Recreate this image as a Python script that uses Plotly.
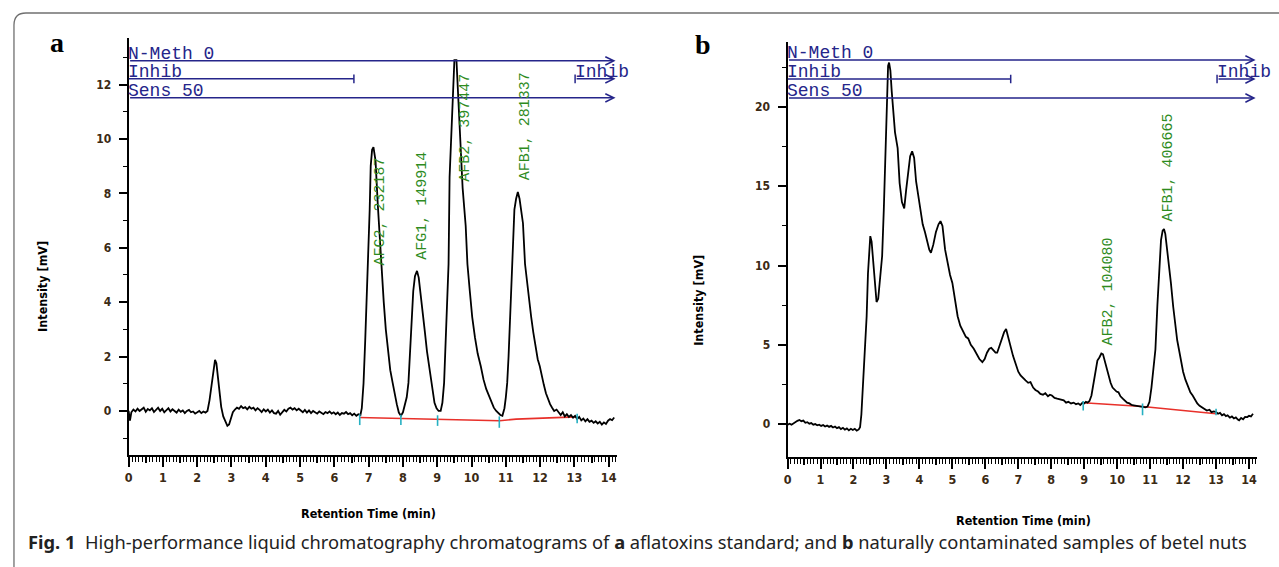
import plotly.graph_objects as go

W, H = 1279, 567

# ---------------- data ----------------
# Panel a: aflatoxin standard chromatogram (time in min, intensity in mV)
a_time = [0.00, 0.04, 0.08, 0.14, 0.20, 0.26, 0.32, 0.38, 0.44, 0.50, 0.56, 0.62, 0.68, 0.74, 0.80,
          0.86, 0.92, 0.98, 1.04, 1.10, 1.16, 1.22, 1.28, 1.34, 1.40, 1.46, 1.52, 1.58, 1.64, 1.70,
          1.76, 1.82, 1.88, 1.94, 2.00, 2.06, 2.12, 2.18, 2.24, 2.30, 2.36, 2.42, 2.48, 2.52, 2.56,
          2.60, 2.65, 2.70, 2.76, 2.82, 2.88, 2.93, 2.98, 3.04, 3.10, 3.16, 3.22, 3.28, 3.34, 3.40,
          3.46, 3.52, 3.58, 3.64, 3.70, 3.76, 3.82, 3.88, 3.94, 4.00, 4.06, 4.12, 4.18, 4.24, 4.30,
          4.36, 4.42, 4.48, 4.54, 4.60, 4.66, 4.72, 4.78, 4.84, 4.90, 4.96, 5.02, 5.08, 5.14, 5.20,
          5.26, 5.32, 5.38, 5.44, 5.50, 5.56, 5.62, 5.68, 5.74, 5.80, 5.86, 5.92, 5.98, 6.04, 6.10,
          6.16, 6.22, 6.28, 6.34, 6.40, 6.46, 6.52, 6.58, 6.64, 6.70, 6.76,
          6.80, 6.85, 6.90, 6.95, 6.98, 7.03, 7.06, 7.10, 7.14, 7.20, 7.27, 7.32, 7.38, 7.44, 7.50,
          7.57, 7.63, 7.70, 7.76, 7.82, 7.88, 7.94, 8.00, 8.06, 8.11, 8.16, 8.21, 8.25, 8.30, 8.35,
          8.41, 8.46, 8.52, 8.58, 8.64, 8.70, 8.76, 8.82, 8.87, 8.92, 8.98, 9.04, 9.10, 9.15, 9.20,
          9.25, 9.29, 9.33, 9.36, 9.42, 9.46, 9.50, 9.56, 9.62, 9.68, 9.74, 9.83, 9.88, 9.95, 10.02,
          10.10, 10.18, 10.27, 10.35, 10.43, 10.51, 10.58, 10.65, 10.72, 10.78, 10.84, 10.90, 10.96,
          11.00, 11.04, 11.08, 11.13, 11.17, 11.21, 11.25, 11.30, 11.35, 11.40, 11.45, 11.50, 11.56,
          11.62, 11.68, 11.74, 11.80, 11.87, 11.93, 11.99, 12.05, 12.11, 12.17, 12.23, 12.29, 12.35,
          12.41, 12.48, 12.54, 12.60, 12.66, 12.72, 12.78, 12.84, 12.90, 12.96, 13.02, 13.08, 13.14,
          13.20, 13.26, 13.32, 13.38, 13.44, 13.50, 13.56, 13.62, 13.68, 13.74, 13.80, 13.86, 13.92,
          13.98, 14.04, 14.10, 14.16]
a_signal = [0.00, -0.36, -0.05, 0.05, -0.02, 0.08, 0.00, 0.06, 0.12, -0.03, 0.07, 0.02, 0.10, -0.04, 0.05,
            0.12, 0.00, 0.08, -0.05, 0.04, 0.10, -0.02, 0.06, 0.00, -0.06, 0.05, -0.03, 0.02, -0.08, 0.00,
            0.04, -0.05, -0.02, -0.10, -0.04, 0.00, -0.08, -0.02, -0.06, 0.00, 0.40, 1.00, 1.60, 1.88, 1.75,
            1.30, 0.70, 0.15, -0.20, -0.40, -0.55, -0.50, -0.30, -0.05, 0.05, 0.12, 0.08, 0.18, 0.10, 0.14,
            0.06, 0.15, 0.08, 0.12, 0.02, 0.10, 0.04, -0.04, 0.06, -0.02, 0.05, -0.06, 0.02, -0.08, -0.10,
            0.00, -0.14, -0.05, 0.04, -0.02, 0.08, 0.12, 0.05, 0.10, 0.02, 0.08, 0.00, -0.05, 0.04, -0.06,
            0.02, -0.08, 0.00, -0.04, -0.10, -0.02, -0.06, -0.12, -0.04, -0.08, -0.02, -0.10, -0.05, -0.12, -0.06,
            -0.15, -0.08, -0.10, -0.04, -0.12, -0.08, -0.16, -0.10, -0.18, -0.12, -0.15,
            0.10, 1.00, 2.60, 4.30, 5.40, 7.40, 9.00, 9.60, 9.70, 9.20, 7.50, 6.40, 5.20, 4.00, 3.00,
            2.24, 1.50, 1.03, 0.60, 0.25, -0.06, -0.18, -0.05, 0.20, 0.50, 1.03, 2.20, 3.45, 4.40, 4.95,
            5.15, 4.90, 4.30, 3.70, 2.90, 2.20, 1.64, 1.10, 0.65, 0.30, 0.10, 0.00, 0.00, 0.30, 1.03,
            2.50, 3.90, 5.40, 8.60, 10.50, 12.20, 12.90, 12.90, 11.50, 10.00, 8.20, 6.80, 5.40, 4.40, 3.45,
            2.70, 2.10, 1.64, 1.15, 0.80, 0.55, 0.30, 0.12, 0.00, -0.08, -0.15, -0.18, 0.10,
            0.50, 1.03, 2.00, 3.50, 4.90, 6.00, 7.40, 7.80, 8.05, 7.80, 7.30, 6.90, 5.40,
            4.70, 4.10, 3.45, 2.90, 2.30, 1.90, 1.64, 1.25, 0.95, 0.65, 0.42, 0.25, 0.12,
            0.00, 0.05, -0.06, -0.15, -0.05, -0.20, -0.12, -0.22, -0.15, -0.25, -0.18, -0.30, -0.22,
            -0.35, -0.28, -0.38, -0.30, -0.40, -0.36, -0.44, -0.38, -0.46, -0.40, -0.50, -0.42, -0.48,
            -0.36, -0.30, -0.34, -0.24]

# Panel b: naturally contaminated betel nut sample
b_time = [0.00, 0.06, 0.12, 0.18, 0.24, 0.30, 0.36, 0.42, 0.48, 0.54, 0.60, 0.66, 0.72, 0.78, 0.84,
          0.90, 0.96, 1.02, 1.08, 1.14, 1.20, 1.26, 1.32, 1.38, 1.44, 1.50, 1.56, 1.62, 1.68, 1.74,
          1.80, 1.86, 1.92, 1.98, 2.04, 2.10, 2.16, 2.20, 2.24, 2.28, 2.33, 2.37, 2.40, 2.44, 2.48,
          2.51, 2.55, 2.60, 2.65, 2.70, 2.75, 2.80, 2.87, 2.92, 2.97, 3.01, 3.05, 3.08, 3.12, 3.16,
          3.20, 3.26, 3.34, 3.40, 3.47, 3.54, 3.60, 3.66, 3.72, 3.78, 3.84, 3.90, 3.96, 4.03, 4.10,
          4.17, 4.24, 4.30, 4.35, 4.42, 4.50, 4.58, 4.64, 4.70, 4.78, 4.86, 4.93, 5.00, 5.08, 5.16,
          5.24, 5.32, 5.41, 5.48, 5.56, 5.65, 5.73, 5.82, 5.91, 5.98, 6.05, 6.12, 6.18, 6.25, 6.31,
          6.36, 6.43, 6.50, 6.57, 6.63, 6.70, 6.77, 6.84, 6.92, 7.00, 7.07, 7.14, 7.22, 7.30, 7.37,
          7.45, 7.52, 7.60, 7.67, 7.75, 7.82, 7.90, 7.96, 8.02, 8.10, 8.18, 8.26, 8.33, 8.38, 8.45,
          8.52, 8.60, 8.68, 8.75, 8.82, 8.88, 8.95, 9.00, 9.05, 9.10, 9.16, 9.22, 9.28, 9.34, 9.40,
          9.46, 9.52, 9.57, 9.62, 9.68, 9.74, 9.80, 9.86, 9.92, 9.98, 10.04, 10.10, 10.17, 10.24, 10.30,
          10.37, 10.44, 10.50, 10.57, 10.64, 10.70, 10.78, 10.86, 10.92, 10.98, 11.04, 11.10, 11.16, 11.22,
          11.28, 11.33, 11.38, 11.42, 11.46, 11.52, 11.57, 11.63, 11.70, 11.76, 11.82, 11.87, 11.94, 12.00,
          12.07, 12.14, 12.22, 12.29, 12.36, 12.43, 12.50, 12.57, 12.64, 12.72, 12.80, 12.86, 12.93, 13.00,
          13.06, 13.12, 13.18, 13.24, 13.30, 13.35, 13.42, 13.48, 13.54, 13.60, 13.66, 13.70, 13.76, 13.82,
          13.88, 13.95, 14.00, 14.06, 14.12]
b_signal = [-0.05, 0.02, -0.04, 0.05, 0.10, 0.20, 0.26, 0.18, 0.22, 0.08, 0.12, 0.02, 0.06, -0.04, 0.00,
            -0.08, -0.04, -0.12, -0.06, -0.16, -0.10, -0.18, -0.12, -0.22, -0.16, -0.26, -0.20, -0.32, -0.24, -0.36,
            -0.28, -0.40, -0.30, -0.38, -0.30, -0.42, -0.34, -0.20, 0.60, 2.00, 3.70, 5.50, 6.80, 9.50, 11.30,
            11.85, 11.50, 10.20, 8.60, 7.70, 7.90, 9.00, 10.60, 13.50, 17.00, 20.50, 22.60, 22.80, 22.30, 21.00,
            19.80, 18.40, 17.40, 15.20, 14.00, 13.60, 14.80, 16.10, 16.90, 17.20, 16.80, 15.30, 14.40, 13.40, 12.60,
            12.10, 11.40, 11.00, 10.80, 11.30, 12.10, 12.60, 12.80, 12.50, 11.00, 10.00, 9.40, 8.90, 7.80, 6.80,
            6.20, 5.90, 5.50, 5.40, 5.00, 4.75, 4.40, 4.10, 3.90, 4.10, 4.50, 4.75, 4.80, 4.60, 4.50,
            4.50, 4.90, 5.30, 5.80, 6.00, 5.40, 4.80, 4.30, 3.80, 3.30, 3.07, 2.90, 2.75, 2.60, 2.65,
            2.30, 2.15, 2.05, 1.90, 1.85, 1.95, 1.75, 1.85, 1.80, 1.65, 1.60, 1.55, 1.50, 1.50, 1.35,
            1.40, 1.30, 1.35, 1.25, 1.30, 1.20, 1.35, 1.30, 1.40, 1.35, 1.45, 1.80, 2.60, 3.50, 4.00,
            4.20, 4.45, 4.40, 4.00, 3.40, 2.90, 2.60, 2.30, 2.15, 2.05, 2.00, 1.75, 1.60, 1.45, 1.35,
            1.30, 1.20, 1.18, 1.15, 1.10, 1.12, 1.08, 1.05, 1.10, 1.40, 2.30, 3.40, 4.70, 7.50,
            10.00, 11.60, 12.20, 12.30, 12.00, 11.00, 10.00, 8.90, 7.40, 6.20, 5.30, 4.75, 3.90, 3.30,
            2.80, 2.40, 2.00, 1.80, 1.50, 1.30, 1.15, 1.05, 0.97, 0.85, 0.90, 0.75, 0.80, 0.76,
            0.65, 0.70, 0.55, 0.62, 0.50, 0.55, 0.40, 0.48, 0.35, 0.42, 0.28, 0.23, 0.38, 0.30,
            0.45, 0.44, 0.52, 0.48, 0.65]

# integration baselines (red) and peak boundary marks (cyan)
a_base_time = [6.72, 7.94, 9.84, 10.82, 11.30, 12.41, 13.05]
a_base_val = [-0.24, -0.28, -0.33, -0.36, -0.30, -0.24, -0.22]
b_base_time = [8.97, 10.77, 13.00]
b_base_val = [1.34, 1.11, 0.65]
a_mark_time = [6.74, 7.94, 9.01, 10.81, 13.08]
a_mark_top = [-0.12, -0.14, -0.16, -0.20, -0.10]
a_mark_bot = [-0.52, -0.52, -0.55, -0.62, -0.45]
b_mark_time = [8.97, 10.77, 13.00]
b_mark_top = [1.45, 1.30, 0.97]
b_mark_bot = [0.86, 0.55, 0.55]

# peak labels
a_peak_text = ["AFG2, 232187", "AFG1, 149914", "AFB2, 397447", "AFB1, 281337"]
a_peak_t = [7.35, 8.58, 9.80, 11.57]
a_peak_v = [7.32, 7.54, 10.40, 10.48]
b_peak_text = ["AFB2, 104080", "AFB1, 406665"]
b_peak_t = [9.74, 11.55]
b_peak_v = [8.33, 16.20]

# integration events (lines at the top)
event_names = ["N-Meth 0", "Inhib", "Sens 50"]
a_event_level = [12.87, 12.21, 11.51]
b_event_level = [22.97, 21.77, 20.57]
a_inhib_stop, a_inhib_start = 6.57, 13.02
b_inhib_stop, b_inhib_start = 6.77, 13.03
event_end = 14.2

x_tick_vals = list(range(0, 15))

# ---------------- styling ----------------
NAVY = "#25258a"
GREEN = "#2e8b1e"
RED = "#e8302a"
CYAN = "#26b0c2"
TICKCOL = "#3b2a14"
NARROW = "Liberation Sans Narrow, DejaVu Sans Condensed, Arial Narrow, sans-serif"
MONO = "Liberation Mono, Courier New, monospace"

fig = go.Figure()


def add_panel(xa, ya, t, v, bt, bv, mt, mtop, mbot):
    fig.add_trace(go.Scatter(x=bt, y=bv, mode="lines", line=dict(color=RED, width=1.6),
                             xaxis=xa, yaxis=ya, showlegend=False, hoverinfo="skip"))
    fig.add_trace(go.Scatter(x=t, y=v, mode="lines", line=dict(color="black", width=1.8),
                             xaxis=xa, yaxis=ya, showlegend=False))
    mx, my = [], []
    for tt, hi, lo in zip(mt, mtop, mbot):
        mx += [tt, tt, None]
        my += [hi, lo, None]
    fig.add_trace(go.Scatter(x=mx, y=my, mode="lines", line=dict(color=CYAN, width=1.6),
                             xaxis=xa, yaxis=ya, showlegend=False, hoverinfo="skip"))


add_panel("x", "y", a_time, a_signal, a_base_time, a_base_val, a_mark_time, a_mark_top, a_mark_bot)
add_panel("x2", "y2", b_time, b_signal, b_base_time, b_base_val, b_mark_time, b_mark_top, b_mark_bot)
# empty traces so the half-minute tick overlays are drawn
fig.add_trace(go.Scatter(x=[], y=[], xaxis="x3", yaxis="y", showlegend=False))
fig.add_trace(go.Scatter(x=[], y=[], xaxis="x4", yaxis="y2", showlegend=False))

annotations = []
shapes = []


def events(xr, yr, levels, inhib_stop, inhib_start, bar_half, text_shift):
    for name, lev in zip(event_names, levels):
        annotations.append(dict(x=0, y=lev, xref=xr, yref=yr, text=name, showarrow=False,
                                xanchor="left", yanchor="bottom", xshift=-3, yshift=text_shift,
                                font=dict(family=MONO, size=18, color=NAVY)))
    # N-Meth and Sens full-length arrows
    for lev in (levels[0], levels[2]):
        annotations.append(dict(x=event_end, y=lev, ax=0, ay=lev, xref=xr, yref=yr, axref=xr, ayref=yr,
                                text="", showarrow=True, arrowhead=5, arrowsize=1.1, arrowwidth=1.5,
                                arrowcolor=NAVY, standoff=0, startstandoff=0))
    # Inhib: off until inhib_stop, on again from inhib_start
    lev = levels[1]
    shapes.append(dict(type="line", xref=xr, yref=yr, x0=0, x1=inhib_stop, y0=lev, y1=lev,
                       line=dict(color=NAVY, width=1.5)))
    shapes.append(dict(type="line", xref=xr, yref=yr, x0=inhib_stop, x1=inhib_stop,
                       y0=lev - bar_half, y1=lev + bar_half, line=dict(color=NAVY, width=1.5)))
    shapes.append(dict(type="line", xref=xr, yref=yr, x0=inhib_start, x1=inhib_start,
                       y0=lev - bar_half, y1=lev + bar_half, line=dict(color=NAVY, width=1.5)))
    annotations.append(dict(x=event_end, y=lev, ax=inhib_start, ay=lev, xref=xr, yref=yr, axref=xr,
                            ayref=yr, text="", showarrow=True, arrowhead=5, arrowsize=1.1,
                            arrowwidth=1.5, arrowcolor=NAVY, standoff=0, startstandoff=0))
    annotations.append(dict(x=inhib_start, y=lev, xref=xr, yref=yr, text="Inhib", showarrow=False,
                            xanchor="left", yanchor="bottom", xshift=-2, yshift=text_shift,
                            font=dict(family=MONO, size=18, color=NAVY)))


events("x", "y", a_event_level, a_inhib_stop, a_inhib_start, 0.16, -5)
events("x2", "y2", b_event_level, b_inhib_stop, b_inhib_start, 0.27, -5)

for txt, t, v in zip(a_peak_text, a_peak_t, a_peak_v):
    annotations.append(dict(x=t, y=v, xref="x", yref="y", text=txt, showarrow=False, textangle=-90,
                            xanchor="center", yanchor="middle",
                            font=dict(family=MONO, size=15, color=GREEN)))
for txt, t, v in zip(b_peak_text, b_peak_t, b_peak_v):
    annotations.append(dict(x=t, y=v, xref="x2", yref="y2", text=txt, showarrow=False, textangle=-90,
                            xanchor="center", yanchor="middle",
                            font=dict(family=MONO, size=15, color=GREEN)))


def P(px, py):
    return px / W, 1 - py / H


# axis titles, panel letters, caption
for (px, py), txt, ang in [((366, 513), "Retention Time (min)", 0), ((1023, 520), "Retention Time (min)", 0),
                           ((38, 286), "Intensity [mV]", -90), ((696, 300), "Intensity [mV]", -90)]:
    xp, yp = P(px, py)
    annotations.append(dict(x=xp, y=yp, xref="paper", yref="paper", text=txt, showarrow=False,
                            textangle=ang, xanchor="center", yanchor="middle",
                            font=dict(family=NARROW, size=12.5, color="black", weight="bold")))
for (px, py), txt in [((53, 42), "a"), ((701, 45), "b")]:
    xp, yp = P(px, py)
    annotations.append(dict(x=xp, y=yp, xref="paper", yref="paper", text=txt, showarrow=False,
                            xanchor="center", yanchor="middle",
                            font=dict(family="Liberation Serif, Times New Roman, serif", size=28,
                                      color="black", weight="bold")))
xp, yp = P(22, 541)
annotations.append(dict(x=xp, y=yp, xref="paper", yref="paper", showarrow=False, xanchor="left",
                        yanchor="middle",
                        text="<b>Fig. 1</b>  High-performance liquid chromatography chromatograms of "
                             "<b>a</b> aflatoxins standard; and <b>b</b> naturally contaminated samples "
                             "of betel nuts",
                        font=dict(family="Noto Sans, Open Sans, sans-serif", size=18.3, color="#222")))

# rounded frame around the figure
x0, yT = P(10, 13)
rx, ry = 12 / W, 12 / H
shapes.append(dict(type="path", xref="paper", yref="paper",
                   path=f"M {x0},-0.05 L {x0},{yT - ry} Q {x0},{yT} {x0 + rx},{yT} L 1.05,{yT}",
                   line=dict(color="#707070", width=1.3)))


def xaxis_cfg(domain):
    return dict(domain=domain, range=[0, 14.25], showgrid=False, zeroline=False, showline=True,
                linecolor="black", linewidth=2, ticks="outside", tickmode="array",
                tickvals=x_tick_vals, ticktext=[str(v) for v in x_tick_vals], ticklen=10, tickwidth=2,
                tickcolor="black",
                minor=dict(ticks="outside", dtick=0.1, tick0=0, ticklen=5, tickwidth=1, tickcolor="black"),
                tickfont=dict(family=NARROW, size=12.5, color=TICKCOL, weight="bold"),
                fixedrange=True)


def half_tick_cfg(domain, over, anchor):
    return dict(domain=domain, range=[0, 14.25], overlaying=over, anchor=anchor, showgrid=False,
                zeroline=False, showline=False, showticklabels=False, ticks="outside",
                tickmode="linear", tick0=0.5, dtick=1, ticklen=7, tickwidth=1.5, tickcolor="black",
                fixedrange=True)


def yaxis_cfg(domain, rng, dtick, xa):
    return dict(domain=domain, range=rng, anchor=xa, showgrid=False, zeroline=False, showline=True,
                linecolor="black", linewidth=2, ticks="outside", dtick=dtick, tick0=0, ticklen=8,
                tickwidth=1.5, tickcolor="black", ticklabelstandoff=5,
                minor=dict(ticks="outside", dtick=dtick / 2, tick0=0, ticklen=4, tickwidth=1.2,
                           tickcolor="black"),
                tickfont=dict(family=NARROW, size=12, color=TICKCOL, weight="bold"),
                fixedrange=True)


a_dom = [125 / W, 615.2 / W]
b_dom = [786 / W, 1257.2 / W]
fig.update_layout(
    width=W, height=H, autosize=False,
    margin=dict(l=0, r=0, t=0, b=0),
    paper_bgcolor="white", plot_bgcolor="white",
    xaxis=dict(**xaxis_cfg(a_dom), anchor="y"),
    yaxis=yaxis_cfg([1 - 455 / H, 1 - 38 / H], [-1.62, 13.71], 2, "x"),
    xaxis2=dict(**xaxis_cfg(b_dom), anchor="y2"),
    yaxis2=yaxis_cfg([1 - 457 / H, 1 - 42 / H], [-2.08, 24.1], 5, "x2"),
    xaxis3=half_tick_cfg(a_dom, "x", "y"),
    xaxis4=half_tick_cfg(b_dom, "x2", "y2"),
    annotations=annotations,
    shapes=shapes,
    showlegend=False,
)

fig.write_html("out.html", config={"displayModeBar": False},
               post_script="document.body.style.margin='0';document.body.style.overflow='hidden';")
